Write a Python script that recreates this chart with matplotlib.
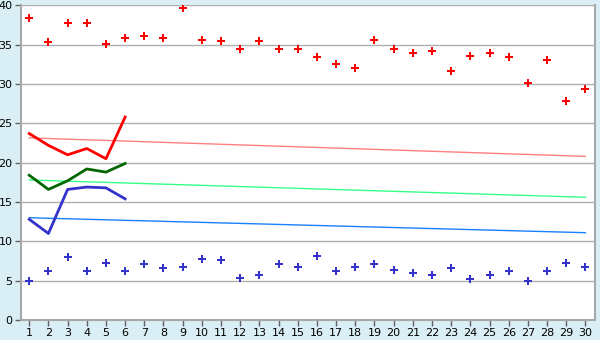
import matplotlib
matplotlib.use('Agg')
import matplotlib.pyplot as plt

days = list(range(1, 31))

# 散点数据
red_pts = [38.4, 35.4, 37.8, 37.8, 35.1, 35.8, 36.1, 35.9, 39.6, 35.6,
           35.5, 34.5, 35.5, 34.4, 34.4, 33.4, 32.6, 32.0, 35.6, 34.4,
           33.9, 34.2, 31.7, 33.5, 33.9, 33.4, 30.1, 33.1, 27.8, 29.4]
blue_pts = [5.0, 6.2, 8.0, 6.2, 7.2, 6.2, 7.1, 6.6, 6.7, 7.8,
            7.6, 5.3, 5.7, 7.1, 6.8, 8.1, 6.2, 6.7, 7.1, 6.4,
            6.0, 5.7, 6.6, 5.2, 5.7, 6.2, 5.0, 6.2, 7.3, 6.8]

# 前6天的粗线
first_days = [1, 2, 3, 4, 5, 6]
red_line = [23.7, 22.2, 21.0, 21.8, 20.5, 25.8]
green_line = [18.4, 16.6, 17.7, 19.2, 18.8, 19.9]
blue_line = [12.8, 11.0, 16.6, 16.9, 16.8, 15.4]

# 趋势线 (起点, 终点)
trend_x = [1, 30]
red_trend = [23.15, 20.8]
green_trend = [17.8, 15.6]
blue_trend = [13.0, 11.1]

fig = plt.figure(figsize=(6, 3.4), dpi=100, facecolor='#daeff5')
ax = fig.add_axes([0.035, 0.0588, 0.9567, 0.9255])
ax.set_facecolor('white')

ax.plot(trend_x, red_trend, color='#ff8080', lw=1)
ax.plot(trend_x, green_trend, color='#33ff88', lw=1)
ax.plot(trend_x, blue_trend, color='#1a80ff', lw=1)

ax.plot(first_days, red_line, color='#ff0000', lw=2)
ax.plot(first_days, green_line, color='#006600', lw=2)
ax.plot(first_days, blue_line, color='#3333cc', lw=2)

ax.plot(days, red_pts, ls='none', marker='P', ms=5.5, color='#ff0000', mew=0)
ax.plot(days, blue_pts, ls='none', marker='P', ms=5.5, color='#3333cc', mew=0)

ax.set_xlim(0.57, 30.5)
ax.set_ylim(0, 40)
ax.set_xticks(days)
ax.set_yticks(range(0, 41, 5))
ax.yaxis.grid(True, color='#b0b0b0', lw=1)
ax.set_axisbelow(True)

for s in ['left', 'bottom', 'right']:
    ax.spines[s].set_color('#a8a8a8')
    ax.spines[s].set_linewidth(1.5)
ax.spines['top'].set_visible(False)

ax.tick_params(axis='both', colors='#606060', labelcolor='black', labelsize=8,
               length=4, width=1)
ax.tick_params(axis='x', pad=2)
ax.tick_params(axis='y', pad=2)

fig.savefig('out.png', dpi=100, facecolor=fig.get_facecolor())
